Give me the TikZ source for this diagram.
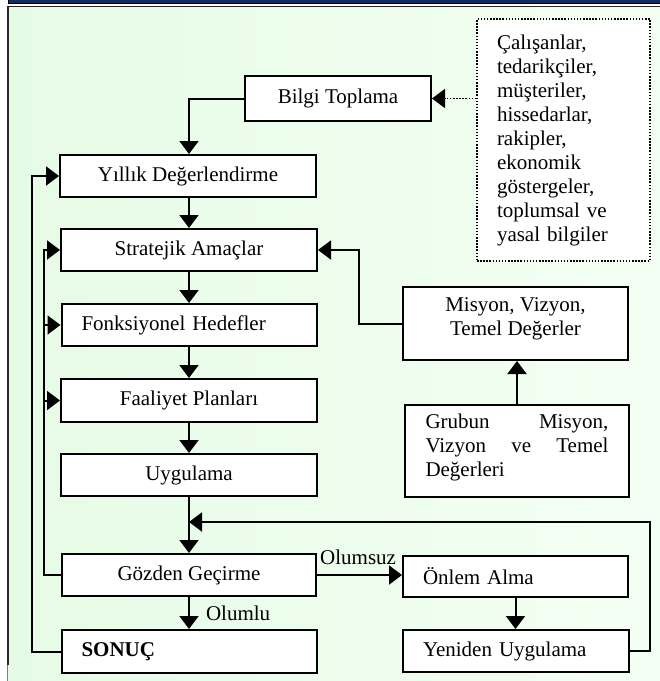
\documentclass[tikz,border=0pt]{standalone}
\usepackage{fontspec}
\setmainfont{Liberation Serif}
\usetikzlibrary{arrows.meta}
\definecolor{navy}{RGB}{18,44,96}
\definecolor{paleL}{RGB}{230,251,230}
\definecolor{paleR}{RGB}{243,255,243}
\begin{document}
\begin{tikzpicture}[x=1pt,y=-1pt,
  font=\fontsize{21}{24}\selectfont,
  box/.style={draw,line width=2pt,fill=white,inner sep=0pt,align=center},
  sz/.style 2 args={minimum width=#1pt,minimum height=#2pt},
  lbox/.style={box,text width=#1pt,align=left,inner xsep=20pt},
  link/.style={line width=2pt},
  arr/.style={link,-{Triangle[length=13pt,width=19pt]}},
  dotline/.style={line width=1.5pt,dash pattern=on 1.5pt off 1.6pt}]

\useasboundingbox (0,0) rectangle (660,681);

% page frame and header band
\shade[left color=paleL,right color=paleR] (7,7) rectangle (660,681);
\filldraw[fill=navy,draw=black,line width=0.8pt] (8.5,-2) rectangle (662,3.8);
\draw[line width=1.5pt,black!85] (7,6.3) -- (660,6.3);
\draw[line width=2pt,black!85] (8,6.3) -- (8,665);
\draw[line width=0.8pt,gray] (7.4,665) -- (7.4,681);

% main column
\node[box,sz={186}{45}] (bilgi) at (338,98.5) {Bilgi Toplama};
\node[box,sz={256}{42}] (yillik) at (188,176) {Yıllık Değerlendirme};
\node[box,sz={256}{42}] (strat) at (189,250) {Stratejik Amaçlar};
\node[lbox=215,minimum height=42pt] (fonk) at (189,325) {Fonksiyonel Hedefler};
\node[box,sz={256}{43}] (faal) at (189,400.5) {Faaliyet Planları};
\node[box,sz={256}{42}] (uyg) at (189,475) {Uygulama};
\node[box,sz={254}{42}] (goz) at (189,575) {Gözden Geçirme};
\node[lbox=215,minimum height=43pt,font=\fontsize{21}{24}\selectfont\bfseries] (sonuc) at (189,651.5) {SONUÇ};

% right column
\node[box,dotline,text width=133pt,align=left,inner xsep=20pt,minimum height=242pt] (info) at (563.5,140)
  {Çalışanlar,\\ tedarikçiler,\\ müşteriler,\\ hissedarlar,\\ rakipler,\\ ekonomik\\ göstergeler,\\ toplumsal ve\\ yasal bilgiler};
\node[box,sz={225}{73}] (misyon) at (515.5,323.5) {};
\node[align=center,inner sep=0pt] (misyonT) at ([yshift=5pt]misyon.center) {Misyon, Vizyon,\\ Temel Değerler};
\node[box,sz={224}{92}] (grubun) at (517,451) {};
\node[text width=183pt,align=justify,inner sep=0pt] (grubunT) at ([yshift=4pt]grubun.center)
  {Grubun\hfill Misyon,\\ Vizyon\hfill ve\hfill Temel\\ Değerleri};
\node[lbox=185,minimum height=41pt] (onlem) at (515.5,576) {Önlem Alma};
\node[lbox=186,minimum height=42pt] (yeni) at (516,651) {Yeniden Uygulama};

% lanes used by the feedback lines
\coordinate (lane1) at (32,0);
\coordinate (lane2) at (44,0);
\coordinate (lane3) at (359,0);
\coordinate (lane4) at (650,522);

% downward flow
\draw[arr] (bilgi.west) -| (yillik.north -| strat.north);
\draw[arr] (yillik.south -| strat.north) -- (strat.north);
\draw[arr] (strat.south) -- (fonk.north);
\draw[arr] (fonk.south) -- (faal.north);
\draw[arr] (faal.south) -- (uyg.north);
\draw[arr] (uyg.south) -- (goz.north);
\draw[arr] (goz.south) -- (sonuc.north)
  node[midway,right,inner sep=0pt,xshift=16pt] (pos) {Olumlu};

% inputs on the right
\draw[dotline,-{Triangle[length=13pt,width=19pt]}] (info.west |- bilgi.east) -- (bilgi.east);
\draw[arr] (grubun.north) -- (grubun.north |- misyon.south);
\draw[arr] (misyon.west) -- (misyon.west -| lane3) |- (strat.east);

% negative review loop
\draw[arr] (goz.east) -- (goz.east -| onlem.west);
\node[anchor=south west,inner sep=0pt] (neg) at ([xshift=3pt,yshift=10pt]goz.east) {Olumsuz};
\draw[arr] (onlem.south) -- (onlem.south |- yeni.north);
\draw[arr] (yeni.east) -| (lane4) -- (lane4 -| uyg.south);

% feedback to the left
\draw[arr] (goz.west) -- (goz.west -| lane2) |- (strat.west);
\draw[arr] (fonk.west -| lane2) -- (fonk.west);
\draw[arr] (faal.west -| lane2) -- (faal.west);
\draw[arr] (sonuc.west) -- (sonuc.west -| lane1) |- (yillik.west);

\end{tikzpicture}
\end{document}
